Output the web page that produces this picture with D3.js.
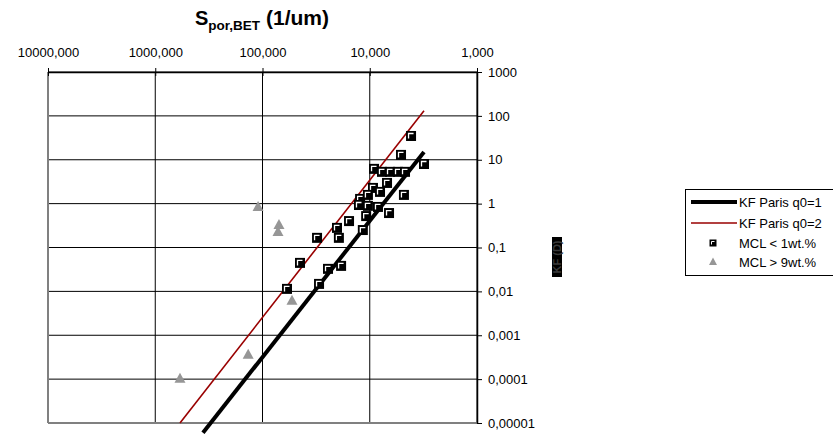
<!DOCTYPE html>
<html>
<head>
<meta charset="utf-8">
<script src="https://cdn.jsdelivr.net/npm/d3@7"></script>
<style>
  body { margin: 0; background: #fff; }
  svg text { font-family: Arial, "Liberation Sans", sans-serif; }
</style>
</head>
<body>
<div id="chart"></div>
<script>
// KF vs S_por,BET - log/log scatter with two Paris lines

// x tick values (reversed axis) and their labels
const xTicks = [10000, 1000, 100, 10, 1];
const xTickLabels = ['10000,000', '1000,000', '100,000', '10,000', '1,000'];
const yTicks = [1000, 100, 10, 1, 0.1, 0.01, 0.001, 0.0001, 0.00001];
const yTickLabels = ['1000', '100', '10', '1', '0,1', '0,01', '0,001', '0,0001', '0,00001'];

// MCL < 1wt.% (squares)
const sqS = [4.12, 5.11, 3.12, 9.12, 7.69, 6.47, 5.45, 4.69, 6.90, 9.33, 4.80, 12.3, 10.4, 8.02,
    12.6, 10.4, 8.38, 6.61, 10.8, 15.6, 20.2, 11.6, 31.0, 19.4, 44.7, 24.5, 18.5, 29.7, 59.1];
const sqKF = [34.8, 12.9, 8.0, 6.2, 5.3, 5.3, 5.3, 5.3, 2.96, 2.28, 1.58, 1.28, 1.58, 1.85,
    0.93, 0.89, 0.84, 0.61, 0.52, 0.40, 0.28, 0.25, 0.166, 0.166, 0.0446, 0.0326, 0.0381, 0.0148, 0.0114];

// MCL > 9wt.% (triangles)
const triS = [110, 70.2, 71.7, 53.1, 136, 588];
const triKF = [0.84, 0.327, 0.226, 0.00608, 0.000358, 0.000102];

// KF Paris lines
const q1S = [359, 3.12];
const q1KF = [6.0e-6, 15.1];
const q2S = [588, 3.12];
const q2KF = [1.0e-5, 131];

const width = 833, height = 434;
const plotLeft = 48, plotRight = 477, plotTop = 72, plotBottom = 423;

const svg = d3.select('#chart')
    .append('svg')
    .attr('width', width)
    .attr('height', height);

const x = d3.scaleLog().domain([10000, 1]).range([plotLeft, plotRight]);
const y = d3.scaleLog().domain([1e-5, 1000]).range([plotBottom, plotTop]);

// gridlines
svg.append('g')
    .selectAll('line')
    .data(yTicks)
    .enter()
    .append('line')
    .attr('x1', plotLeft).attr('x2', plotRight)
    .attr('y1', d => y(d)).attr('y2', d => y(d))
    .attr('stroke', '#000')
    .attr('stroke-width', 1);

svg.append('g')
    .selectAll('line')
    .data(xTicks)
    .enter()
    .append('line')
    .attr('x1', d => x(d)).attr('x2', d => x(d))
    .attr('y1', plotTop).attr('y2', plotBottom)
    .attr('stroke', '#000')
    .attr('stroke-width', 1);

// plot area border (grey on left/bottom)
svg.append('line')
    .attr('x1', plotLeft).attr('x2', plotLeft)
    .attr('y1', plotTop).attr('y2', plotBottom)
    .attr('stroke', '#808080').attr('stroke-width', 2);
svg.append('line')
    .attr('x1', plotLeft).attr('x2', plotRight)
    .attr('y1', plotBottom).attr('y2', plotBottom)
    .attr('stroke', '#808080').attr('stroke-width', 2);

// top axis
const xAxis = d3.axisTop(x)
    .tickValues(xTicks)
    .tickFormat((d, i) => xTickLabels[i])
    .tickSizeInner(4)
    .tickSizeOuter(0)
    .tickPadding(11);

const gx = svg.append('g')
    .attr('transform', `translate(0,${plotTop})`)
    .call(xAxis);
gx.select('.domain').attr('stroke', '#000').attr('stroke-width', 1.5);
gx.selectAll('.tick line').attr('y2', -4).attr('y1', 4).attr('stroke', '#000');
gx.selectAll('.tick text')
    .attr('font-size', '13px')
    .attr('fill', '#000')
    .attr('font-family', 'Arial, "Liberation Sans", sans-serif');

// right axis
const yAxis = d3.axisRight(y)
    .tickValues(yTicks)
    .tickFormat((d, i) => yTickLabels[i])
    .tickSizeInner(5)
    .tickSizeOuter(0)
    .tickPadding(6);

const gy = svg.append('g')
    .attr('transform', `translate(${plotRight},0)`)
    .call(yAxis);
gy.select('.domain').attr('stroke', '#000').attr('stroke-width', 1.5);
gy.selectAll('.tick line').attr('stroke', '#000');
gy.selectAll('.tick text')
    .attr('font-size', '13px')
    .attr('fill', '#000')
    .attr('font-family', 'Arial, "Liberation Sans", sans-serif');

// title
const title = svg.append('text')
    .attr('x', 262)
    .attr('y', 25)
    .attr('text-anchor', 'middle')
    .attr('font-weight', 'bold')
    .attr('font-size', '20px')
    .attr('fill', '#000');
title.append('tspan').text('S');
title.append('tspan').attr('dy', 5).attr('font-size', '13.5px').text('por,BET');
title.append('tspan').attr('dy', -5).attr('font-size', '21px').text(' (1/um)');

// y axis title (rendered dark on black like the source)
svg.append('rect')
    .attr('x', 552).attr('y', 237)
    .attr('width', 10).attr('height', 40)
    .attr('fill', '#000');
svg.append('text')
    .attr('transform', 'translate(560.5,257) rotate(-90)')
    .attr('text-anchor', 'middle')
    .attr('font-size', '11px')
    .attr('font-weight', 'bold')
    .attr('fill', '#3a3a3a')
    .text('KF (D)');

// lines
const line = d3.line()
    .x(d => x(d[0]))
    .y(d => y(d[1]));

svg.append('path')
    .datum(q1S.map((s, i) => [s, q1KF[i]]))
    .attr('d', line)
    .attr('fill', 'none')
    .attr('stroke', '#000')
    .attr('stroke-width', 4);

svg.append('path')
    .datum(q2S.map((s, i) => [s, q2KF[i]]))
    .attr('d', line)
    .attr('fill', 'none')
    .attr('stroke', '#990000')
    .attr('stroke-width', 1.6);

// markers
function squareMarker(g) {
    g.append('rect')
        .attr('x', -5).attr('y', -5)
        .attr('width', 10).attr('height', 10)
        .attr('fill', '#000');
    g.append('path')
        .attr('d', 'M-2.5,2.5V-2.5H2.5')
        .attr('fill', 'none')
        .attr('stroke', '#fff')
        .attr('stroke-width', 1.3);
}

function triangleMarker(g) {
    g.append('path')
        .attr('d', 'M0,-6L5.5,4L-5.5,4Z')
        .attr('fill', '#969696');
}

svg.append('g')
    .selectAll('g')
    .data(triS.map((s, i) => [s, triKF[i]]))
    .enter()
    .append('g')
    .attr('transform', d => `translate(${x(d[0])},${y(d[1])})`)
    .each(function () { triangleMarker(d3.select(this)); });

svg.append('g')
    .selectAll('g')
    .data(sqS.map((s, i) => [s, sqKF[i]]))
    .enter()
    .append('g')
    .attr('transform', d => `translate(${x(d[0])},${y(d[1])})`)
    .each(function () { squareMarker(d3.select(this)); });

// legend
const legend = svg.append('g').attr('class', 'legend');
legend.append('rect')
    .attr('x', 685.5).attr('y', 189.5)
    .attr('width', 160).attr('height', 86)
    .attr('fill', '#fff')
    .attr('stroke', '#000')
    .attr('stroke-width', 1);

const legendItems = [
    { label: 'KF Paris q0=1', type: 'line', color: '#000', w: 4 },
    { label: 'KF Paris q0=2', type: 'line', color: '#990000', w: 1.6 },
    { label: 'MCL < 1wt.%', type: 'square' },
    { label: 'MCL > 9wt.%', type: 'triangle' }
];
const legendY = [202, 223, 243, 262];

legendItems.forEach((item, i) => {
    const ly = legendY[i];
    if (item.type === 'line') {
        legend.append('line')
            .attr('x1', 691).attr('x2', 737)
            .attr('y1', ly).attr('y2', ly)
            .attr('stroke', item.color)
            .attr('stroke-width', item.w);
    } else {
        const g = legend.append('g')
            .attr('transform', `translate(713,${ly})`);
        if (item.type === 'square') {
            g.append('rect')
                .attr('x', -3.5).attr('y', -3.5)
                .attr('width', 7).attr('height', 7)
                .attr('fill', '#000');
            g.append('path')
                .attr('d', 'M-1.5,1.5V-1.5H1.5')
                .attr('fill', 'none')
                .attr('stroke', '#fff')
                .attr('stroke-width', 1);
        } else {
            g.append('path')
                .attr('d', 'M0,-4.5L4,3L-4,3Z')
                .attr('fill', '#969696');
        }
    }
    legend.append('text')
        .attr('x', 739)
        .attr('y', ly)
        .attr('dy', '0.35em')
        .attr('font-size', '13px')
        .attr('fill', '#000')
        .text(item.label);
});
</script>
</body>
</html>
